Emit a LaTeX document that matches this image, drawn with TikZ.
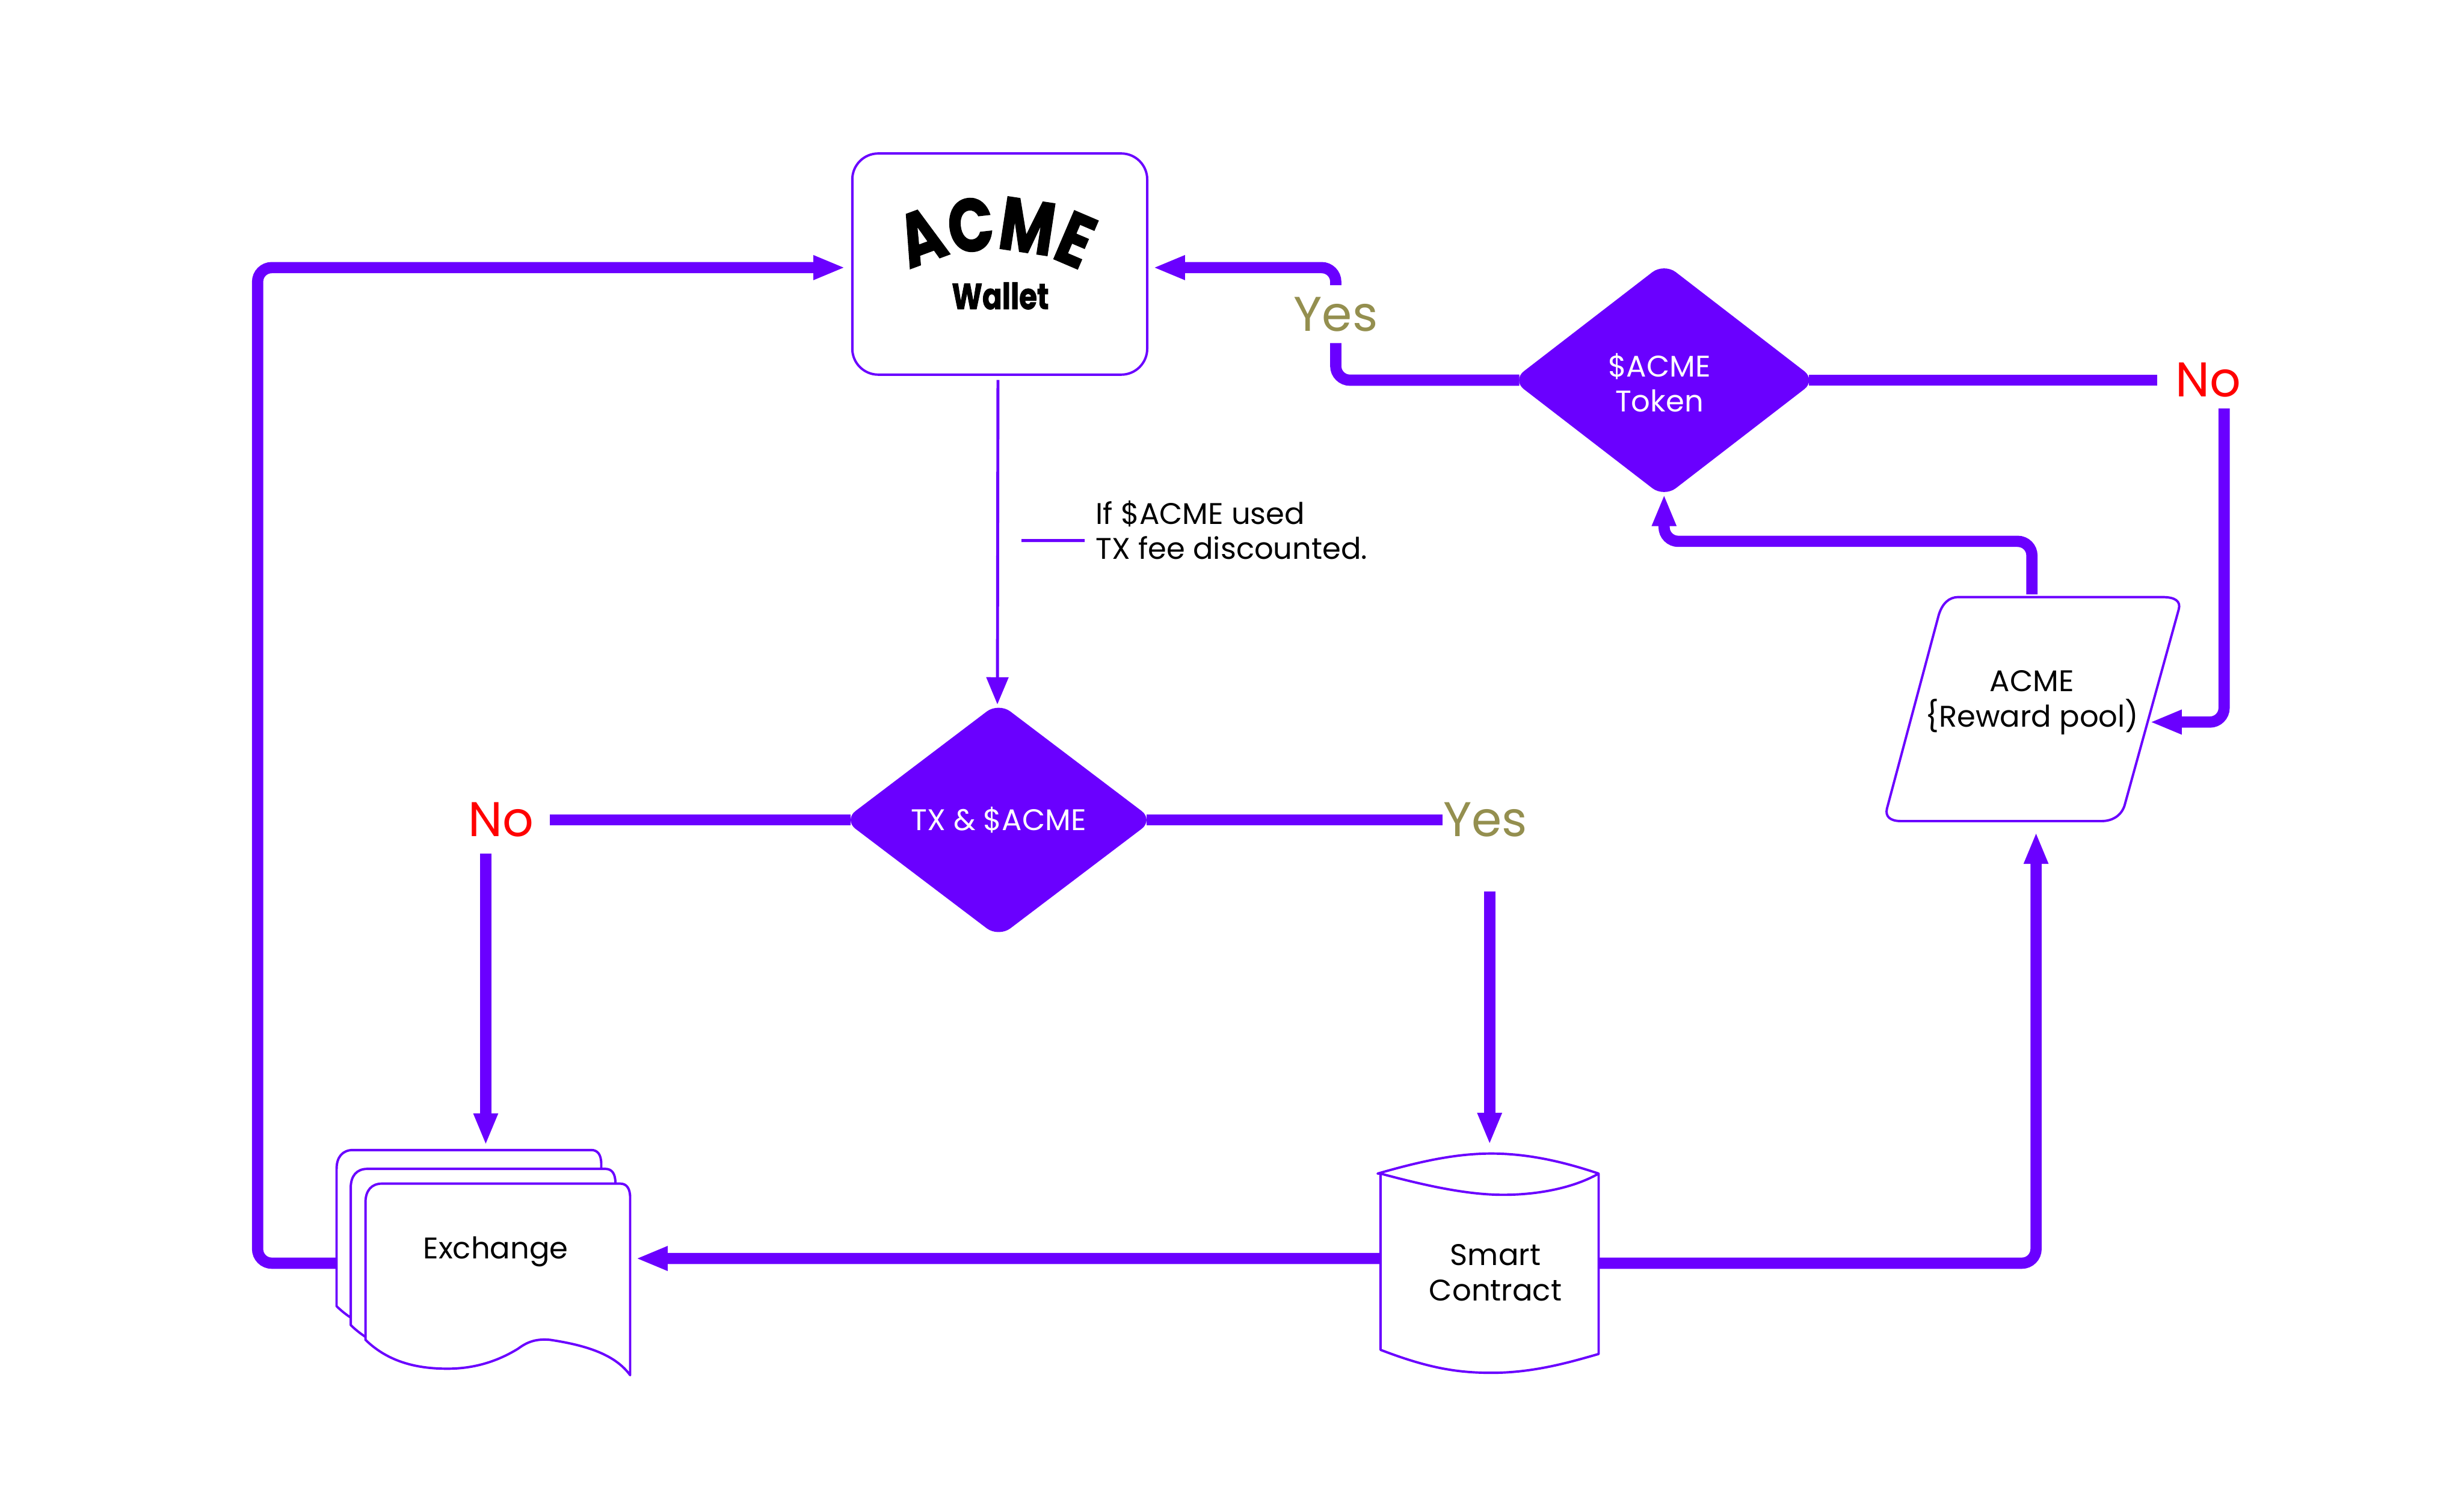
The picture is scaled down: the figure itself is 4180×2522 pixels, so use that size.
\documentclass[tikz,border=0pt]{standalone}
\usepackage{fontspec}
\setmainfont{Poppins}
\newfontfamily\logofont[FakeStretch=0.8,FakeBold=1.5]{Poppins}
\usetikzlibrary{arrows.meta,calc,shapes.geometric,decorations.text}
\definecolor{acmeviolet}{HTML}{6A00FF}
\definecolor{yesolive}{HTML}{948F4F}
\definecolor{nored}{HTML}{FF0000}
\tikzset{
  flowtext/.style={font=\fontsize{14.4}{16.9}\selectfont,align=center,inner sep=0pt},
  flowbox/.style={minimum width=#1,inner sep=0pt,outer sep=0pt},
  decision/.style={diamond,fill=acmeviolet,text=white,rounded corners=.25cm,inner sep=0pt,outer sep=0pt,flowtext},
  sketchline/.style={draw=acmeviolet,line width=.04cm,fill=white,line join=round},
  flowline/.style={draw=acmeviolet,line width=.19cm,rounded corners=.24cm},
  flowarrow/.style={flowline,>={Triangle[length=.54cm,width=.38cm]},->},
  thinline/.style={draw=acmeviolet,line width=.05cm},
  answer/.style={font=\fontsize{23.5}{26}\selectfont,inner sep=0pt,outer sep=0pt}
}
\begin{document}
\begin{tikzpicture}[x=.01cm,y=-.01cm]
  \useasboundingbox (0,0) rectangle (4180,2522);
  % wallet
  \node[draw=acmeviolet,line width=.04cm,rounded corners=.44cm,minimum width=5cm,minimum height=3.75cm,outer sep=0pt] (wallet) at (1696,448) {};
  \path[decorate,decoration={text along path,text align=center,text={|\logofont\fontsize{36}{36}\selectfont\bfseries|ACME}}]
    (1510,480) .. controls (1610,405) and (1770,405) .. (1865,482);
  \node[font=\logofont\fontsize{17.5}{20}\selectfont\bfseries,inner sep=0pt] (walletname) at (1697,502) {Wallet};
  % decisions
  \node[decision,minimum width=5.25cm,minimum height=3.98cm] (txdia) at (1694,1391) {TX \& \$ACME};
  \node[decision,minimum width=5.15cm,minimum height=3.97cm] (tokendia) at (2823,645) {};
  \node[flowtext,text=white] (tokenname) at (2815,649) {\$ACME\\Token};
  % answers
  \node[answer,text=nored,minimum width=1.66cm,minimum height=1.14cm] (notx) at (850,1391) {No};
  \node[answer,text=yesolive,minimum width=1.46cm,minimum height=2.42cm] (yestx) at (2520,1391) {Yes};
  \node[answer,text=yesolive,minimum height=.98cm] (yestoken) at (2266,533) {Yes};
  \node[answer,text=nored,minimum width=1.72cm,minimum height=.96cm] (notoken) at (3746,645) {No};
  % exchange sheets
  \foreach \dx/\dy in {-49/-57,-25/-25,0/0}{
    \draw[sketchline,shift={(\dx,\dy)}] (620,2273) -- (620,2040) .. controls (620,2020) and (630,2008) .. (648,2008) -- (1052,2008)
      .. controls (1063,2008) and (1069,2016) .. (1069,2032) -- (1069,2333) .. controls (1045,2300) and (1000,2283) .. (933,2273)
      .. controls (910,2271) and (895,2276) .. (879,2288) .. controls (840,2312) and (800,2322) .. (759,2322)
      .. controls (710,2322) and (660,2312) .. (620,2273) -- cycle;
  }
  \node[flowbox=5.09cm,minimum height=3.9cm] (exchange) at (824,2138) {};
  \node[flowtext] (exchangename) at (841,2124) {Exchange};
  % smart contract
  \draw[sketchline] (2342,1991) -- (2342,2290) .. controls (2420,2320) and (2470,2329) .. (2530,2329)
    .. controls (2600,2329) and (2660,2312) .. (2712,2297) -- (2712,1991) .. controls (2650,1970) and (2590,1957) .. (2530,1957)
    .. controls (2470,1957) and (2410,1970) .. (2337,1991) -- (2342,1991) .. controls (2420,2012) and (2490,2027) .. (2550,2027)
    .. controls (2610,2027) and (2670,2015) .. (2712,1991);
  \node[flowbox=3.73cm,minimum height=3.96cm] (smart) at (2527,2140) {};
  \node[flowtext] (smartname) at (2537,2159) {Smart\\Contract};
  % reward pool
  \draw[sketchline] (3322,1013) -- (3669,1013) .. controls (3690,1013) and (3700,1020) .. (3696,1034) -- (3604,1367)
    .. controls (3598,1385) and (3582,1393) .. (3565,1393) -- (3225,1393) .. controls (3206,1393) and (3198,1385) .. (3201,1372)
    -- (3289,1043) .. controls (3295,1024) and (3306,1013) .. (3322,1013) -- cycle;
  \node[flowbox=4.0cm,minimum height=4.03cm] (reward) at (3452,1210) {};
  \node[flowtext] (rewardname) at (3447,1192) {ACME\\\{Reward pool)};
  % note on the fee
  \node[flowtext,align=left,anchor=west] (feenote) at (1858,899) {If \$ACME used\\TX fee discounted.};
  \coordinate (feetick) at (1733,917);
  \draw[thinline] (feetick) -- ([yshift=-.18cm,xshift=-.18cm]feenote.west);
  % thin connector
  \draw[thinline,>={Triangle[length=.46cm,width=.37cm]},->,shorten <=.09cm,shorten >=-.03cm] ([xshift=-.03cm]wallet.south) -- ([xshift=-.02cm]txdia.north);
  % left branch
  \draw[flowline,shorten <=-.12cm] (txdia.west) -- (notx.east);
  \draw[flowarrow] (notx.south -| exchange.north) -- (exchange.north);
  \coordinate (leftbend) at (437,454);
  \draw[flowarrow] ([yshift=-.05cm]exchange.west) -| (leftbend) -- ([xshift=-.12cm,yshift=-.06cm]wallet.west);
  % right branch
  \draw[flowline,shorten <=-.12cm] (txdia.east) -- (yestx.west);
  \draw[flowarrow] (yestx.south -| smart.north) -- (smart.north);
  \draw[flowarrow] ([yshift=.05cm]smart.west) -- ([yshift=.03cm]exchange.east);
  \draw[flowarrow] ([yshift=-.03cm]smart.east) -| ([xshift=.02cm]reward.south);
  % token loop
  \draw[flowarrow] ([xshift=-.05cm]reward.north) -- ++(0,-90) -| ([yshift=.05cm]tokendia.south);
  \draw[flowline,shorten <=-.12cm] (tokendia.west) -| (yestoken.south);
  \draw[flowarrow] (yestoken.north) |- ([xshift=.1cm,yshift=-.06cm]wallet.east);
  \draw[flowline,shorten <=-.12cm] (tokendia.east) -- (notoken.west);
  \draw[flowarrow] ([xshift=.27cm]notoken.south) |- ([xshift=-.05cm,yshift=-.15cm]reward.east);
\end{tikzpicture}
\end{document}
